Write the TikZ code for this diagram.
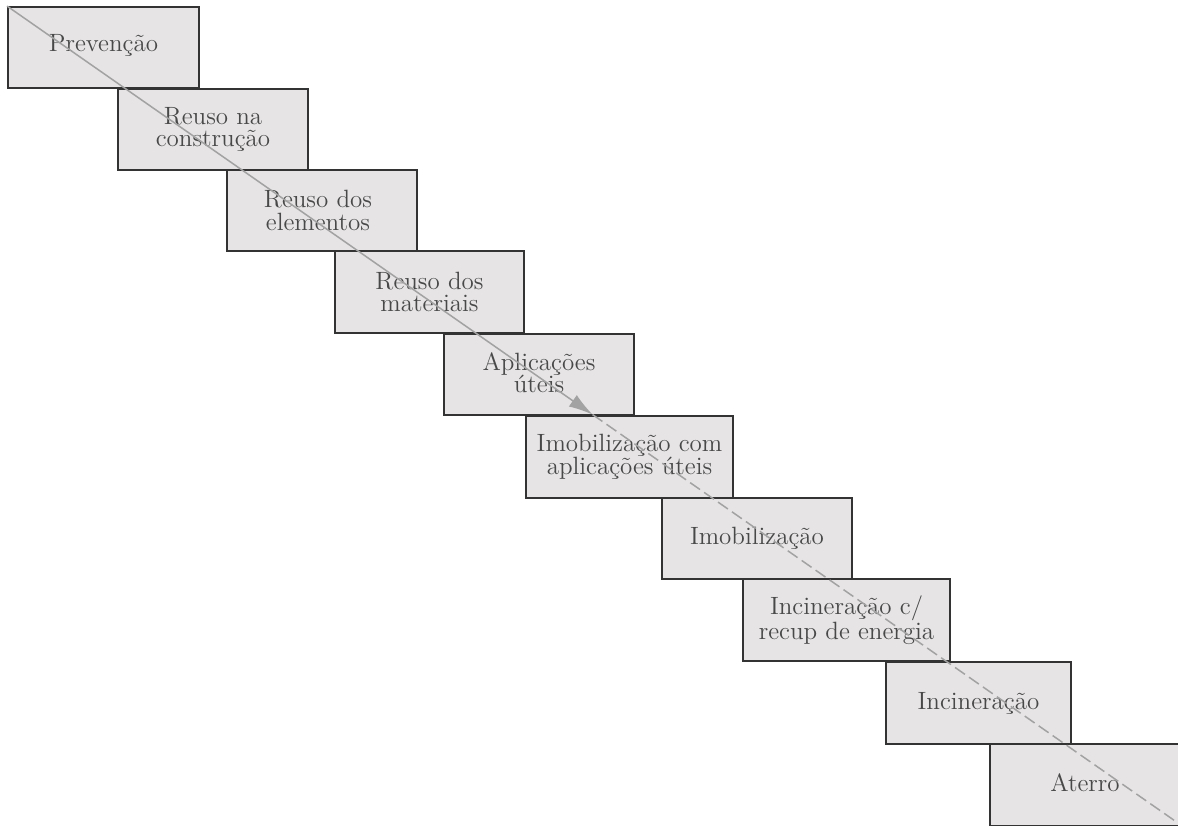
\documentclass[tikz,border=0pt]{standalone}
\usepackage{tikz}
\usetikzlibrary{arrows.meta, positioning, calc}
\definecolor{boxfill}{HTML}{E6E4E4}
\definecolor{boxline}{HTML}{333333}
\definecolor{pathgray}{HTML}{A2A2A2}
\definecolor{textgray}{HTML}{484848}
\tikzset{
	block/.style={draw=boxline, fill=boxfill, line width=0.9pt, minimum height=40.5pt},
	blocktext/.style={align=center, text=textgray, font=\fontsize{12.5}{11.3}\selectfont},
	hierpath/.style={draw=pathgray, line width=0.75pt}
}
\begin{document}
\begin{tikzpicture}[x=0.5pt, y=-0.5pt]
		\clip (0,0) rectangle (1178,825);
		\fill[white] (0,0) rectangle (1178,825);
		
		\node[block, minimum width=95.5pt] (prev) at (103.5,47.5) {};
		\node[blocktext] at ([yshift=1pt]prev) {Prevenção};
		
		\node[block, minimum width=95pt] (reusocons) at (213,129.5) {};
		\node[blocktext] at (reusocons) {Reuso na \\ construção};
		
		\node[block, minimum width=95pt] (reusoelem) at (322,210.5) {};
		\node[blocktext] at ([xshift=-2pt]reusoelem) {Reuso dos \\ elementos};
		
		\node[block, minimum width=94.5pt, minimum height=41pt] (reusomat) at (429.5,292) {};
		\node[blocktext] at (reusomat) {Reuso dos \\ materiais};
		
		\node[block, minimum width=95pt] (aplic) at (539,374.5) {};
		\node[blocktext] at ([yshift=1pt]aplic) {Aplicações \\ úteis};
		
		\node[block, minimum width=103.5pt, minimum height=41pt] (imobaplic) at (629.5,457) {};
		\node[blocktext] at (imobaplic) {Imobilização com \\ aplicações úteis};
		
		\node[block, minimum width=95pt] (imob) at (757,538.5) {};
		\node[blocktext] at (imob) {Imobilização};
		
		\node[block, minimum width=103.5pt, minimum height=41pt] (incinrec) at (846.5,620) {};
		\node[blocktext] at (incinrec) {Incineração c/ \\ recup de energia};
		
		\node[block, minimum width=92.5pt, minimum height=41pt] (incin) at (978.5,703) {};
		\node[blocktext] at (incin) {Incineração};
		
		\node[block, minimum width=95pt, minimum height=41pt] (aterro) at (1085,785) {};
		\node[blocktext] at ([yshift=1pt]aterro) {Aterro};
		
		% diagonal: solid with arrow up to the middle, dashed after
		\coordinate (pathend) at (1178,823);
		\coordinate (pathmid) at ($(prev.north west)!0.5!(pathend)$);
		\draw[hierpath, -{Latex[length=12pt, width=7pt]}] (prev.north west) -- (pathmid);
		\draw[hierpath, dash pattern=on 6pt off 2.5pt] (pathmid) -- (pathend);
	\end{tikzpicture}
\end{document}
